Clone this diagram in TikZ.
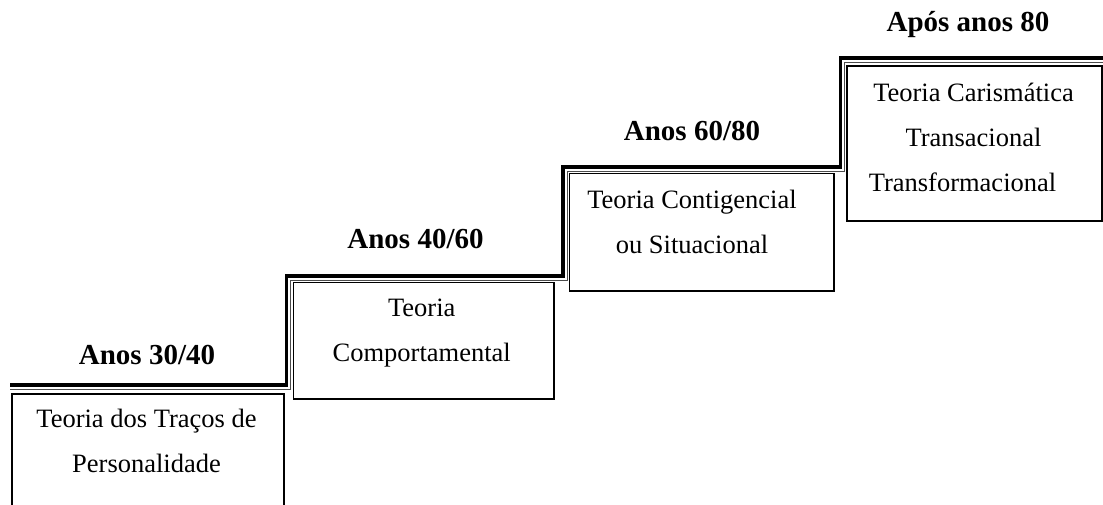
\documentclass[tikz,border=0pt]{standalone}
\usepackage{fontspec}
\setmainfont{Liberation Serif}
\usetikzlibrary{calc,positioning}

\begin{document}
\begin{tikzpicture}[
    x=1pt, y=-1pt,
    nosep/.style={inner sep=0},
    era/.style={font=\fontsize{29}{34}\selectfont\bfseries, nosep, anchor=base},
    frame/.style={draw, line width=1.9pt, anchor=north west, nosep},
    theory/.style={font=\fontsize{26.5}{45}\selectfont, align=center, nosep},
    stair/.style={line width=3.8pt, line join=miter},
    stairline/.style={line width=1pt, black!70}]

\useasboundingbox (0,0) rectangle (1103,504);
\clip (0,0) rectangle (1103,504);

\coordinate (s0) at (10,385);
\coordinate (s1) at (286.5,385);
\coordinate (s2) at (286.5,276);
\coordinate (s3) at (563,276);
\coordinate (s4) at (563,167);
\coordinate (s5) at (840.5,167);
\coordinate (s6) at (840.5,58);
\coordinate (s7) at (1110,58);

\path[draw, stair] (s0) -- (s1) -- (s2) -- (s3) -- (s4) -- (s5) -- (s6) -- (s7);
\path[draw, stairline] ([shift={(0,4)}]s0) -- ([shift={(4,4)}]s1) -- ([shift={(4,4)}]s2)
    -- ([shift={(4,4)}]s3) -- ([shift={(4,4)}]s4) -- ([shift={(4,4)}]s5)
    -- ([shift={(4,4)}]s6) -- ([shift={(0,4)}]s7);

\node[frame, minimum width=272.3pt, minimum height=140pt] (traits) at (10.7,392.8) {};
\node[frame, minimum width=260.2pt, minimum height=116.2pt] (behaviour) at (292.5,281.5) {};
\node[frame, minimum width=264.8pt, minimum height=117.2pt] (contingency) at (568.5,172.5) {};
\node[frame, minimum width=255.2pt, minimum height=155pt] (charisma) at (845.8,65.2) {};

\node[theory] (traitsText) at (146.5,440.8) {Teoria dos Traços de\\Personalidade};
\node[theory] (behaviourText) at (421.7,333) {Teoria\\Comportamental};
\node[theory] (contingencyText) at (692,221.8) {Teoria Contigencial\\ou Situacional};
\node[theory] (charismaText) at (973.5,137.6) {Teoria Carismática\\Transacional\\Transformacional\hspace*{22pt}};

\node[era] (era1) at (147,364) {Anos 30/40};
\node[era] (era2) at (415.5,248.3) {Anos 40/60};
\node[era] (era3) at (692,140) {Anos 60/80};
\node[era] (era4) at (968,31) {Após anos 80};

\end{tikzpicture}
\end{document}
